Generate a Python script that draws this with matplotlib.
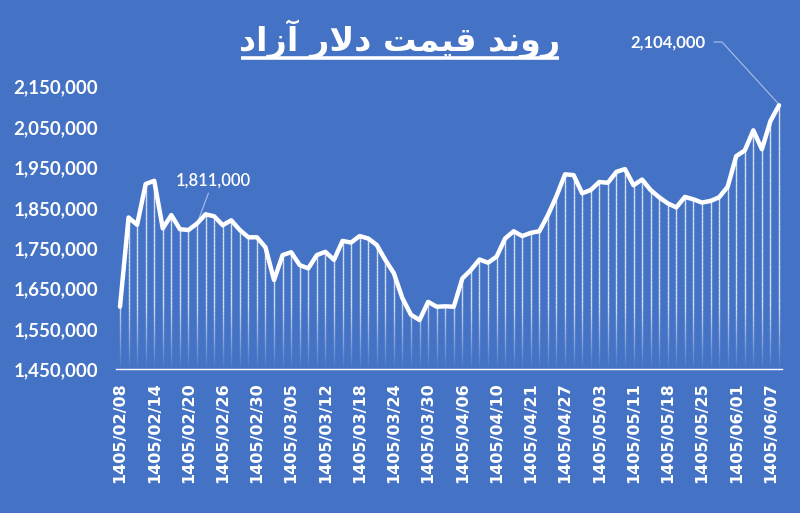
import numpy as np
import matplotlib
matplotlib.use("Agg")
import matplotlib.pyplot as plt
from matplotlib.collections import LineCollection
from matplotlib.lines import Line2D
from matplotlib.transforms import IdentityTransform
from matplotlib.ticker import FuncFormatter, FixedLocator

# ---------------- data ----------------
values = [1605000, 1826000, 1808000, 1909000, 1917000, 1799000, 1832000, 1797000,
          1795000, 1811000, 1834000, 1829000, 1807000, 1819000, 1795000, 1777000,
          1777000, 1752000, 1671000, 1733000, 1740000, 1708000, 1700000, 1733000,
          1741000, 1721000, 1768000, 1764000, 1780000, 1774000, 1758000, 1721000,
          1688000, 1626000, 1585000, 1572000, 1617000, 1605000, 1606000, 1605000,
          1675000, 1696000, 1722000, 1714000, 1729000, 1774000, 1792000, 1780000,
          1788000, 1792000, 1832000, 1879000, 1933000, 1931000, 1886000, 1894000,
          1914000, 1912000, 1939000, 1946000, 1906000, 1920000, 1894000, 1876000,
          1861000, 1851000, 1877000, 1871000, 1863000, 1867000, 1876000, 1902000,
          1978000, 1992000, 2042000, 1995000, 2065000, 2104000]
tick_labels = ['1405/02/08', '1405/02/14', '1405/02/20', '1405/02/26', '1405/02/30',
               '1405/03/05', '1405/03/12', '1405/03/18', '1405/03/24', '1405/03/30',
               '1405/04/06', '1405/04/10', '1405/04/21', '1405/04/27', '1405/05/03',
               '1405/05/11', '1405/05/18', '1405/05/25', '1405/06/01', '1405/06/07']
tick_step = 4
y_ticks = [1450000, 1550000, 1650000, 1750000, 1850000, 1950000, 2050000, 2150000]
annot_low_idx = 9
annot_low_text = '1,811,000'
annot_high_text = '2,104,000'
# title "روند قیمت دلار آزاد" written in shaped (presentation) forms, visual order
title_text = ('\uFEA9\uFE8D\uFEAF\uFE81 \uFEAD\uFEFB\uFEA9 '
              '\uFE96\uFEE4\uFBFF\uFED7 \uFEAA\uFEE7\uFEED\uFEAD')

BG = '#4472C4'
W, H = 800, 513

fig = plt.figure(figsize=(W / 100, H / 100), dpi=100, facecolor=BG)
ax = fig.add_axes([116 / W, (H - 369.3) / H, 666 / W, (369.3 - 86.7) / H])
ax.set_facecolor(BG)

x = np.arange(len(values))
y = np.array(values, dtype=float)
ymin, ymax = 1450000, 2150000

# drop lines with fading toward the bottom
segs, cols = [], []
nseg = 40
for xi, yi in zip(x, y):
    edges = np.linspace(ymin, yi, nseg + 1)
    for a, b in zip(edges[:-1], edges[1:]):
        segs.append([(xi, a), (xi, b)])
        mid = (a + b) / 2
        alpha = np.clip((mid - ymin) / 160000, 0.05, 1.0) * 0.8
        cols.append((1, 1, 1, alpha))
lc = LineCollection(segs, colors=cols, linewidths=1.0, zorder=2)
lc.set_capstyle('butt')
ax.add_collection(lc)

ax.plot(x, y, color='white', lw=3.2, solid_joinstyle='round',
        solid_capstyle='round', zorder=3, clip_on=False)

ax.set_xlim(-0.467, 77.35)
ax.set_ylim(ymin, ymax)

for s in ['top', 'right', 'left']:
    ax.spines[s].set_visible(False)
ax.spines['bottom'].set_color('white')
ax.spines['bottom'].set_linewidth(1.0)

ax.yaxis.set_major_locator(FixedLocator(y_ticks))
ax.yaxis.set_major_formatter(FuncFormatter(lambda v, p: f'{v:,.0f}'))
ax.tick_params(axis='y', length=0, pad=13, colors='white', labelsize=13.5)
for t in ax.get_yticklabels():
    t.set_fontweight('bold')
    t.set_family('Lato')

ax.set_xticks(x[::tick_step])
ax.set_xticklabels(tick_labels, rotation=90, fontsize=11.5, fontweight='bold',
                   color='white', family='DejaVu Sans')
ax.tick_params(axis='x', length=0, pad=9)

# annotations
ax.annotate(annot_low_text, xy=(annot_low_idx, values[annot_low_idx]),
            xytext=(213, H - 181), textcoords='figure pixels',
            ha='center', va='center', color='white', fontsize=12,
            family='Lato', fontweight='semibold',
            arrowprops=dict(arrowstyle='-', color=(1, 1, 1, 0.55), lw=0.8,
                            shrinkA=1, shrinkB=2), zorder=5)

ax.text(0, 0, annot_high_text, transform=IdentityTransform(),
        ha='center', va='center', color='white', fontsize=12, fontweight='bold',
        family='Lato')
ax.texts[-1].set_position((668, H - 43))
px, py = ax.transData.transform((len(values) - 1, values[-1]))
fig.add_artist(Line2D([714, 722, px - 1, ], [H - 42, H - 42, py + 2],
                      transform=IdentityTransform(), color=(1, 1, 1, 0.55), lw=0.8))

# title with underline
tt = fig.text(400 / W, 1 - 39 / H, title_text, ha='center', va='center',
              color='white', fontsize=24, fontweight='bold', family='DejaVu Sans')
fig.canvas.draw()
bb = tt.get_window_extent()
fig.add_artist(Line2D([bb.x0 + 2, bb.x1 - 2], [H - 58, H - 58], transform=IdentityTransform(),
                      color='white', lw=2.6, solid_capstyle='butt'))

fig.savefig('out.png', dpi=100, facecolor=BG)
